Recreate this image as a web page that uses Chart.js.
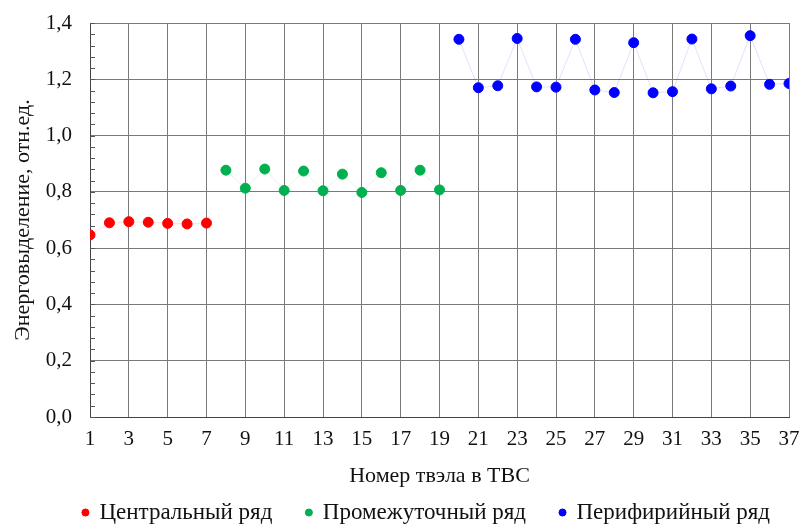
<!DOCTYPE html>
<html>
<head>
<meta charset="utf-8">
<script src="https://cdn.jsdelivr.net/npm/chart.js@4.4.1/dist/chart.umd.min.js"></script>
<style>
  html, body { margin: 0; padding: 0; background: #fff; }
  #wrap { width: 812px; height: 524px; }
</style>
</head>
<body>
<div id="wrap"><canvas id="chart" width="812" height="524"></canvas></div>
<script>
// номера твэлов по рядам
const tvelCentr = [1, 2, 3, 4, 5, 6, 7];
const tvelPromezh = [8, 9, 10, 11, 12, 13, 14, 15, 16, 17, 18, 19];
const tvelPerif = [20, 21, 22, 23, 24, 25, 26, 27, 28, 29, 30, 31, 32, 33, 34, 35, 36, 37];

// энерговыделение, отн.ед.
const energCentr = [0.647, 0.690, 0.694, 0.692, 0.688, 0.686, 0.689];
const energPromezh = [0.877, 0.813, 0.881, 0.805, 0.874, 0.804, 0.863, 0.798, 0.868, 0.805, 0.877, 0.807];
const energPerif = [1.342, 1.170, 1.177, 1.345, 1.173, 1.172, 1.342, 1.162, 1.153, 1.330, 1.152, 1.156, 1.343, 1.166, 1.176, 1.355, 1.182, 1.185];

const seriesNames = ['Центральный ряд', 'Промежуточный ряд', 'Перифирийный ряд'];

const shrift = "'Liberation Serif', 'Times New Roman', serif";

function toPoints(xs, ys) {
    return xs.map((x, i) => ({ x: x, y: ys[i] }));
}

// малые риски на оси Y (внутрь области графика)
const minorTicks = {
    id: 'minorTicks',
    afterDraw(chart) {
        const ctx = chart.ctx;
        const y = chart.scales.y;
        const left = chart.chartArea.left;
        ctx.save();
        ctx.strokeStyle = '#555';
        ctx.lineWidth = 1;
        for (let v = 0; v <= 1.4001; v += 0.04) {
            const py = Math.round(y.getPixelForValue(v)) + 0.5;
            ctx.beginPath();
            ctx.moveTo(left, py);
            ctx.lineTo(left + 5, py);
            ctx.stroke();
        }
        ctx.restore();
    }
};

const ctx = document.getElementById('chart').getContext('2d');
new Chart(ctx, {
    type: 'line',
    data: {
        datasets: [
            {
                label: seriesNames[0],
                data: toPoints(tvelCentr, energCentr),
                borderColor: 'rgba(255,0,0,0.12)',
                backgroundColor: '#ff0000',
                pointBackgroundColor: '#ff0000',
                pointBorderColor: '#ff0000',
                borderWidth: 1,
                pointRadius: 5
            },
            {
                label: seriesNames[1],
                data: toPoints(tvelPromezh, energPromezh),
                borderColor: 'rgba(0,176,80,0.12)',
                backgroundColor: '#00b050',
                pointBackgroundColor: '#00b050',
                pointBorderColor: '#00b050',
                borderWidth: 1,
                pointRadius: 5
            },
            {
                label: seriesNames[2],
                data: toPoints(tvelPerif, energPerif),
                borderColor: 'rgba(0,0,255,0.12)',
                backgroundColor: '#0000ff',
                pointBackgroundColor: '#0000ff',
                pointBorderColor: '#0000ff',
                borderWidth: 1,
                pointRadius: 5
            }
        ]
    },
    options: {
        responsive: false,
        animation: false,
        // отступ слева, чтобы легенда встала как на оригинале; справа место даёт ось X
        layout: { padding: { top: 23, right: 0, left: 41, bottom: -10 } },
        plugins: {
            legend: {
                position: 'bottom',
                labels: {
                    usePointStyle: true,
                    pointStyle: 'circle',
                    boxWidth: 5,
                    boxHeight: 5,
                    padding: 34,
                    color: '#111',
                    font: { family: shrift, size: 23 }
                }
            },
            tooltip: { enabled: false }
        },
        scales: {
            x: {
                type: 'linear',
                min: 1,
                max: 37,
                ticks: {
                    stepSize: 2,
                    color: '#111',
                    padding: 10,
                    font: { family: shrift, size: 21 }
                },
                grid: { color: '#7a7a7a', drawTicks: false },
                border: { color: '#444' },
                title: {
                    display: true,
                    text: 'Номер твэла в ТВС',
                    color: '#111',
                    padding: { top: 0, bottom: -22 },
                    font: { family: shrift, size: 22 }
                },
                afterFit(scale) {
                    scale.height = 50;
                    scale.paddingRight = 23;
                }
            },
            y: {
                min: 0,
                max: 1.4,
                ticks: {
                    stepSize: 0.2,
                    color: '#111',
                    padding: 18,
                    font: { family: shrift, size: 21 },
                    callback: v => v.toFixed(1).replace('.', ',')
                },
                grid: { color: '#7a7a7a', drawTicks: false },
                border: { color: '#444' },
                title: {
                    display: true,
                    text: 'Энерговыделение, отн.ед.',
                    color: '#111',
                    padding: { top: -31, bottom: 0 },
                    font: { family: shrift, size: 22 }
                },
                afterFit(scale) {
                    scale.width = 49;
                    scale.paddingTop = 0;
                    scale.paddingBottom = 0;
                }
            }
        }
    },
    plugins: [minorTicks]
});
</script>
</body>
</html>
